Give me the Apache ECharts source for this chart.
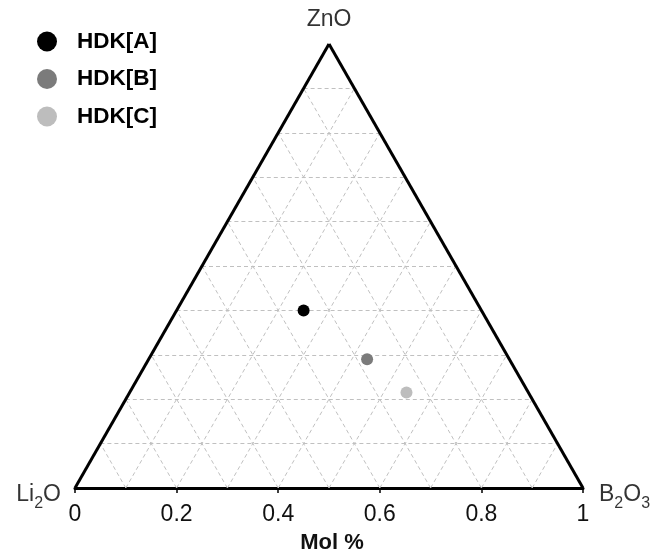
<!DOCTYPE html>
<html>
<head>
<meta charset="utf-8">
<script src="https://cdn.jsdelivr.net/npm/echarts@6/dist/echarts.min.js"></script>
<style>
html,body{margin:0;padding:0;background:#fff;}
#chart{width:657px;height:550px;}
</style>
</head>
<body>
<div id="chart"></div>
<script>
// ---- data (mole fractions) ----
const sampleNames = ['HDK[A]', 'HDK[B]', 'HDK[C]'];
const znO  = [0.40, 0.29, 0.215];
const b2O3 = [0.25, 0.43, 0.545];
const li2O = [0.35, 0.28, 0.24];
const sampleColors = ['#000000', '#7b7b7b', '#bdbdbd'];
const gridLevels = [0.1, 0.2, 0.3, 0.4, 0.5, 0.6, 0.7, 0.8, 0.9];
const axisTickValues = [0, 0.2, 0.4, 0.6, 0.8, 1];
const vertexNames = ['Li2O', 'B2O3', 'ZnO'];
const axisTitle = 'Mol %';

// ternary (B2O3, ZnO) -> cartesian data coords (x along base, y = ZnO)
function toXY(b, z) { return [b + z / 2, z]; }

const FONT = 'Liberation Sans, Arial, Helvetica, sans-serif';

// grid lines
const gridLines = [];
gridLevels.forEach(k => {
  gridLines.push({coords: [toXY(0, k), toXY(1 - k, k)]});   // constant ZnO
  gridLines.push({coords: [toXY(k, 0), toXY(k, 1 - k)]});   // constant B2O3
  gridLines.push({coords: [toXY(1 - k, 0), toXY(0, 1 - k)]}); // constant Li2O
});

// triangle sides (left and right; base is the x axis line)
const edges = [
  {coords: [toXY(0, 0), toXY(0, 1)]},
  {coords: [toXY(1, 0), toXY(0, 1)]}
];

const richSub = {
  a: {fontSize: 23, fontFamily: FONT, color: '#000', lineHeight: 24, verticalAlign: 'bottom'},
  s: {fontSize: 16, fontFamily: FONT, color: '#000', lineHeight: 16, verticalAlign: 'top', padding: [14, 0, 0, 0]}
};

const vertexData = [
  {value: toXY(0, 0), label: {position: 'left', distance: 14, offset: [0, 6], formatter: '{a|Li}{s|2}{a|O}', rich: richSub}},
  {value: toXY(1, 0), label: {position: 'right', distance: 16, offset: [0, 6], formatter: '{a|B}{s|2}{a|O}{s|3}', rich: richSub}},
  {value: toXY(0, 1), label: {position: 'top', distance: 13, formatter: '{a|ZnO}', rich: richSub}}
];

const sampleSeries = sampleNames.map((n, i) => ({
  name: n,
  type: 'scatter',
  symbol: 'circle',
  symbolSize: 12,
  clip: false,
  z: 10,
  itemStyle: {color: sampleColors[i], opacity: 1},
  data: [toXY(b2O3[i], znO[i])]
}));

const chart = echarts.init(document.getElementById('chart'), null, {renderer: 'canvas'});
chart.setOption({
  animation: false,
  backgroundColor: '#ffffff',
  grid: {left: 75, right: 74, top: 44, bottom: 62, containLabel: false, outerBoundsMode: 'none'},
  legend: {
    data: sampleNames.map((n, i) => ({name: n, icon: 'circle', itemStyle: {color: sampleColors[i], opacity: 1}})),
    orient: 'vertical',
    left: 32,
    top: 25,
    itemWidth: 20,
    itemHeight: 20,
    itemGap: 14.5,
    selectedMode: false,
    textStyle: {fontSize: 22.5, fontWeight: 'bold', fontFamily: FONT, color: '#000', padding: [0, 0, 0, 15], lineHeight: 20}
  },
  xAxis: {
    type: 'value',
    min: 0,
    max: 1,
    interval: 0.2,
    name: axisTitle,
    nameLocation: 'middle',
    nameGap: 44,
    nameTextStyle: {fontSize: 22, fontWeight: 'bold', fontFamily: FONT, color: '#111', padding: [0, 0, 0, 6]},
    axisLine: {show: true, onZero: false, lineStyle: {color: '#000', width: 3}},
    axisTick: {show: true, length: 5, lineStyle: {color: '#000', width: 1.5}},
    axisLabel: {fontSize: 23, fontFamily: FONT, color: '#111', margin: 15,
      formatter: v => String(axisTickValues.find(t => Math.abs(t - v) < 1e-9) ?? v)},
    splitLine: {show: false}
  },
  yAxis: {type: 'value', min: 0, max: 1, show: false},
  series: [
    {
      type: 'lines',
      coordinateSystem: 'cartesian2d',
      silent: true,
      z: 1,
      lineStyle: {color: '#c0c0c0', width: 1, type: [4, 3], opacity: 1},
      data: gridLines
    },
    {
      type: 'lines',
      coordinateSystem: 'cartesian2d',
      silent: true,
      z: 5,
      lineStyle: {color: '#000', width: 3, opacity: 1},
      data: edges
    },
    {
      type: 'scatter',
      symbolSize: 0,
      clip: false,
      silent: true,
      label: {show: true},
      data: vertexData
    },
    ...sampleSeries
  ]
});
</script>
</body>
</html>
